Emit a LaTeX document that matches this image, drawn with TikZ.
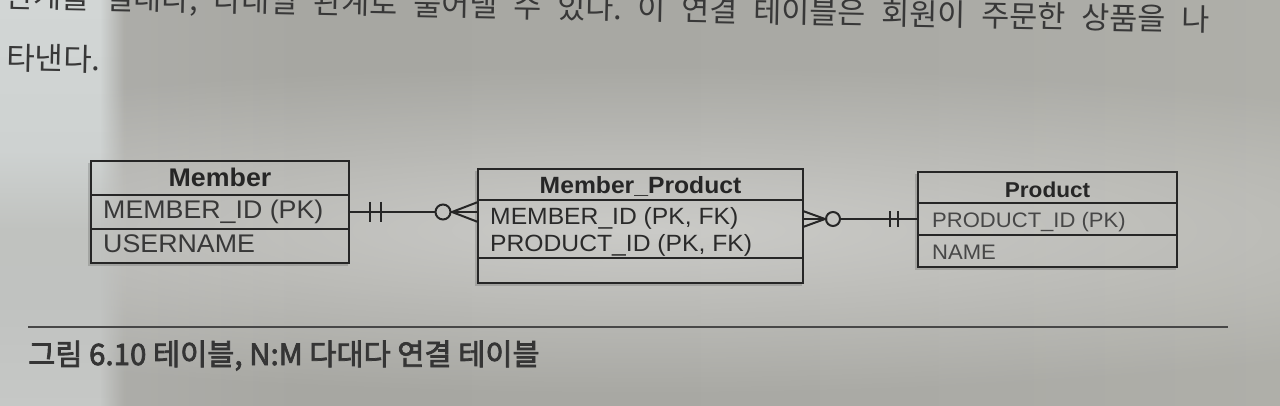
\documentclass[tikz,border=0pt]{standalone}
\usepackage{fontspec}
\setmainfont{Liberation Sans}
\newfontfamily\krfont{Noto Sans CJK KR}
\newfontfamily\erfont{Liberation Sans}[FakeStretch=1.05]
\usetikzlibrary{calc,fadings}
\newcommand\heavytext[1]{\special{pdf:literal direct 2 Tr 0.75 w}#1\special{pdf:literal direct 0 Tr}}
\definecolor{bgB}{HTML}{ADADA9}
\definecolor{bgC}{HTML}{A7A7A2}
\definecolor{bgD}{HTML}{A8A8A3}
\definecolor{bgE}{HTML}{ABABA6}
\definecolor{bgF}{HTML}{AFAFA9}
\definecolor{bandA}{HTML}{D2D6D5}
\definecolor{bandB}{HTML}{CED2D1}
\definecolor{bandC}{HTML}{C0C2BF}
\definecolor{bandD}{HTML}{C0C2C0}
\definecolor{bandE}{HTML}{C6C8C6}
\definecolor{ink}{HTML}{262626}
\definecolor{rowA}{HTML}{383838}
\definecolor{rowB}{HTML}{2A2A2A}
\definecolor{rowC}{HTML}{474747}
\definecolor{bodyink}{HTML}{383838}
\definecolor{capink}{HTML}{353535}
\pgfdeclarehorizontalshading{pagebg}{100bp}{color(0bp)=(bgB); color(25bp)=(bgB); color(29.3bp)=(bgB); color(36.7bp)=(bgC); color(50bp)=(bgD); color(64bp)=(bgE); color(75bp)=(bgF); color(100bp)=(bgF)}
\pgfdeclareverticalshading{bandsh}{100bp}{color(0bp)=(bandE); color(25bp)=(bandE); color(38bp)=(bandD); color(46.7bp)=(bandC); color(56.5bp)=(bandB); color(75bp)=(bandA); color(100bp)=(bandA)}
\tikzfading[name=glow, inner color=transparent!0, outer color=transparent!100]
\tikzfading[name=hfade, left color=transparent!0, right color=transparent!100]
\begin{document}
\frenchspacing
\begin{tikzpicture}[x=1pt,y=-1pt,
  sect/.style={draw=ink, line width=1.7pt, inner sep=0pt, outer sep=0pt},
  frame/.style={draw=ink, line width=2.4pt},
  shadowline/.style={draw=black, line width=2.5pt, opacity=0.15},
  conn/.style={draw=ink, line width=2pt},
  hdrtxt/.style={inner sep=0pt, anchor=base},
  rowtxt/.style={inner sep=0pt, anchor=base west},
]
\useasboundingbox (0,0) rectangle (1280,406);
\clip (0,0) rectangle (1280,406);
% page background
\shade[shading=pagebg] (0,0) rectangle (1280,406);
\fill[white, fill opacity=0.4, path fading=glow] (640,230) ellipse [x radius=1100pt, y radius=165pt];
\shade[shading=bandsh] (0,0) rectangle (100,406);
\shade[shading=bandsh, path fading=hfade] (100,0) rectangle (124,406);

% body text (top cut off)
\node[anchor=base west, rotate=-1.15, inner sep=0pt, text=bodyink,
      font=\krfont\fontsize{30.5pt}{36pt}\selectfont] (line1) at (5,7)
  {\makebox[1205pt][s]{관계를 일대다, 다대일 관계로 풀어낼 수 있다. 이 연결 테이블은 회원이 주문한 상품을 나}};
\node[anchor=base west, rotate=-1.15, inner sep=0pt, text=bodyink,
      font=\krfont\fontsize{31pt}{36pt}\selectfont] (line2) at (6,69) {타낸다.};

% ---------- Member ----------
\node[sect, minimum width=258pt, minimum height=34pt] (mh) at (220,178) {};
\node[sect, minimum width=258pt, minimum height=34pt, anchor=north] (m1) at (mh.south) {};
\node[sect, minimum width=258pt, minimum height=34pt, anchor=north] (m2) at (m1.south) {};
% ---------- Member_Product ----------
\node[sect, minimum width=325pt, minimum height=31pt] (ph) at (640.5,184.5) {};
\node[sect, minimum width=325pt, minimum height=58pt, anchor=north] (pa) at (ph.south) {};
\node[sect, minimum width=325pt, minimum height=25pt, anchor=north] (pe) at (pa.south) {};
% ---------- Product ----------
\node[sect, minimum width=259pt, minimum height=31pt] (rh) at (1047.5,187.5) {};
\node[sect, minimum width=259pt, minimum height=32pt, anchor=north] (r1) at (rh.south) {};
\node[sect, minimum width=259pt, minimum height=32pt, anchor=north] (r2) at (r1.south) {};

% shadows (left and bottom)
\draw[shadowline] ($(mh.north west)+(-1.5,2)$) -- ($(m2.south west)+(-1.5,2)$) -- ($(m2.south east)+(-1.5,2)$);
\draw[shadowline] ($(ph.north west)+(-1.5,2)$) -- ($(pe.south west)+(-1.5,2)$) -- ($(pe.south east)+(-1.5,2)$);
\draw[shadowline] ($(rh.north west)+(-1.5,2)$) -- ($(r2.south west)+(-1.5,2)$) -- ($(r2.south east)+(-1.5,2)$);
% frames
\draw[frame] (mh.north west) rectangle (m2.south east);
\draw[frame] (ph.north west) rectangle (pe.south east);
\draw[frame] (rh.north west) rectangle (r2.south east);

% texts
\node[hdrtxt, text=ink, font=\erfont\bfseries\fontsize{25.5pt}{29pt}\selectfont] (mht) at (220,187) {Member};
\node[rowtxt, text=rowA, font=\erfont\fontsize{25.5pt}{30pt}\selectfont] (m1t) at (103,218.5) {MEMBER\_ID (PK)};
\node[rowtxt, text=rowA, font=\erfont\fontsize{25.5pt}{30pt}\selectfont] (m2t) at (103,252.5) {USERNAME};

\node[hdrtxt, text=ink, font=\erfont\bfseries\fontsize{23.5pt}{28pt}\selectfont] (pht) at (640.5,194) {Member\_Product};
\node[rowtxt, text=rowB, font=\erfont\fontsize{23.5pt}{28pt}\selectfont] (pa1) at (490,225) {MEMBER\_ID (PK, FK)};
\node[rowtxt, text=rowB, font=\erfont\fontsize{23.5pt}{28pt}\selectfont] (pa2) at (490,251.5) {PRODUCT\_ID (PK, FK)};

\node[hdrtxt, text=ink, font=\erfont\bfseries\fontsize{21.5pt}{26pt}\selectfont] (rht) at (1047.5,198) {Product};
\node[rowtxt, text=rowC, font=\erfont\fontsize{21pt}{26pt}\selectfont] (r1t) at (932,228) {PRODUCT\_ID (PK)};
\node[rowtxt, text=rowC, font=\erfont\fontsize{21pt}{26pt}\selectfont] (r2t) at (932,260) {NAME};

% ---------- left connector: Member (one) -- Member_Product (zero or many) ----------
\coordinate (La) at (m1.east);
\coordinate (Lb) at (m1.east -| pa.west);
\coordinate (Lc) at ($(Lb)+(-35,0)$);
\draw[conn] (La) -- ($(Lc)+(-7.5,0)$);
\draw[conn] (Lc) circle[radius=7.5pt];
\draw[conn] ($(Lc)+(7.5,0)$) -- (Lb);
\draw[conn] ($(Lb)+(-26,0)$) -- ($(Lb)+(0,-10)$);
\draw[conn] ($(Lb)+(-26,0)$) -- ($(Lb)+(0,10)$);
\draw[conn] ($(La)+(21,-10)$) -- ($(La)+(21,10)$);
\draw[conn] ($(La)+(32,-10)$) -- ($(La)+(32,10)$);

% ---------- right connector: Member_Product (zero or many) -- Product (one) ----------
\coordinate (Ra) at (r1.west -| pa.east);
\coordinate (Rb) at (r1.west);
\coordinate (Rc) at ($(Ra)+(30,0)$);
\draw[conn] (Ra) -- ($(Ra)+(22,0)$);
\draw[conn] ($(Ra)+(0,-8)$) -- ($(Ra)+(22,0)$) -- ($(Ra)+(0,8)$);
\draw[conn] (Rc) circle[radius=7pt];
\draw[conn] ($(Rc)+(7,0)$) -- (Rb);
\draw[conn] ($(Rb)+(-28,-8)$) -- ($(Rb)+(-28,8)$);
\draw[conn] ($(Rb)+(-20,-8)$) -- ($(Rb)+(-20,8)$);

% ---------- caption ----------
\coordinate (ruleL) at (28,327);
\coordinate (ruleR) at (1228,327);
\draw[draw=black!72, line width=1.6pt] (ruleL) -- (ruleR);
\node[anchor=base west, inner sep=0pt, text=capink,
      font=\krfont\fontsize{29.5pt}{33pt}\selectfont] (cap) at (28,365)
  {\heavytext{그림 6.10 테이블, N:M 다대다 연결 테이블}};
\end{tikzpicture}
\end{document}
